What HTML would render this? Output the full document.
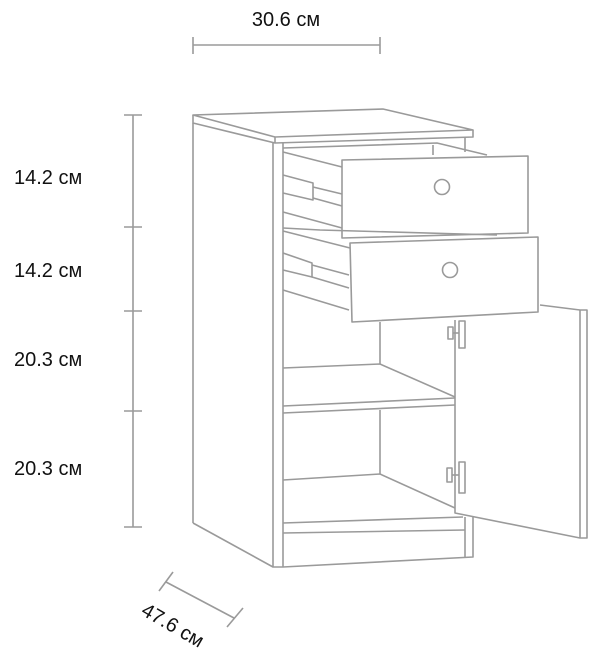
<!DOCTYPE html>
<html><head><style>
html,body{margin:0;padding:0;background:#fff;width:608px;height:660px;overflow:hidden}
svg{display:block}
text{font-family:"Liberation Sans",sans-serif;font-size:20px;fill:#111}
</style></head><body>
<svg width="608" height="660" viewBox="0 0 608 660">
<g fill="none" stroke="#9a9a9a" stroke-width="1.6" stroke-linejoin="round">
<!-- dimension lines -->
<line x1="193" y1="45" x2="380" y2="45"/>
<line x1="193" y1="37" x2="193" y2="54"/>
<line x1="380" y1="37" x2="380" y2="54"/>
<line x1="133" y1="115" x2="133" y2="527"/>
<line x1="124" y1="115" x2="142" y2="115"/>
<line x1="124" y1="227" x2="142" y2="227"/>
<line x1="124" y1="311" x2="142" y2="311"/>
<line x1="124" y1="411" x2="142" y2="411"/>
<line x1="124" y1="527" x2="142" y2="527"/>
<line x1="166" y1="582" x2="234" y2="618"/>
<line x1="159" y1="591" x2="173" y2="572"/>
<line x1="227" y1="627" x2="243" y2="608"/>
<!-- top slab -->
<polygon points="193,115 383,109 473,130 275,137"/>
<polyline points="193,115 193,123 275,143 473,137 473,130"/>
<line x1="275" y1="137" x2="275" y2="143"/>
<!-- left side -->
<line x1="193" y1="123" x2="193" y2="523"/>
<polyline points="193,523 273,567 283,567 473,557 473,517"/>
<line x1="273" y1="143" x2="273" y2="567"/>
<line x1="283" y1="143" x2="283" y2="567"/>
<line x1="465" y1="137" x2="465" y2="152"/>
<line x1="465" y1="517" x2="465" y2="557"/>
<!-- plinth -->
<line x1="283" y1="523" x2="463" y2="517"/>
<line x1="283" y1="533" x2="465" y2="530"/>
<!-- interior -->
<line x1="380" y1="323" x2="380" y2="364"/>
<polyline points="283,368 380,364 455,397"/>
<line x1="283" y1="406" x2="455" y2="398"/>
<line x1="283" y1="413" x2="455" y2="405"/>
<line x1="380" y1="410" x2="380" y2="474"/>
<polyline points="283,480 380,474 455,508"/>
<!-- door -->
<polyline points="455,320 455,513 580,538 587,538 587,310 580,310 540,305"/>
<line x1="580" y1="310" x2="580" y2="538"/>
<rect x="459" y="321" width="6" height="27"/>
<rect x="448" y="327" width="5" height="12"/>
<line x1="453" y1="333" x2="459" y2="333"/>
<rect x="459" y="462" width="6" height="31"/>
<rect x="447" y="468" width="5" height="14"/>
<line x1="452" y1="475" x2="459" y2="475"/>
<!-- top drawer -->
<polygon points="342,160 528,156 528,233 342,238"/>
<circle cx="442" cy="187" r="7.5"/>
<polyline points="283,148 437,143 487,155"/>
<line x1="283" y1="152" x2="342" y2="167"/>
<line x1="433" y1="145" x2="433" y2="155"/>
<polyline points="283,175 313,183 313,200 283,193"/>
<line x1="313" y1="187" x2="342" y2="194"/>
<line x1="313" y1="198" x2="342" y2="206"/>
<line x1="283" y1="212" x2="342" y2="228"/>
<!-- second drawer -->
<polygon points="350,243 538,237 538,312 352,322"/>
<circle cx="450" cy="270" r="7.5"/>
<polyline points="283,228 320,230 497,235"/>
<line x1="283" y1="231" x2="350" y2="248"/>
<polyline points="283,253 312,263 312,277 283,270"/>
<line x1="312" y1="265" x2="349" y2="275"/>
<line x1="312" y1="277" x2="349" y2="288"/>
<line x1="283" y1="290" x2="349" y2="310"/>
<line x1="380" y1="322" x2="380" y2="323"/>
</g>
<text x="286" y="26" text-anchor="middle">30.6 см</text>
<text x="14" y="184">14.2 см</text>
<text x="14" y="277">14.2 см</text>
<text x="14" y="366">20.3 см</text>
<text x="14" y="475">20.3 см</text>
<text x="173" y="632" text-anchor="middle" transform="rotate(30 173 625)">47.6 см</text>
</svg>
</body></html>
